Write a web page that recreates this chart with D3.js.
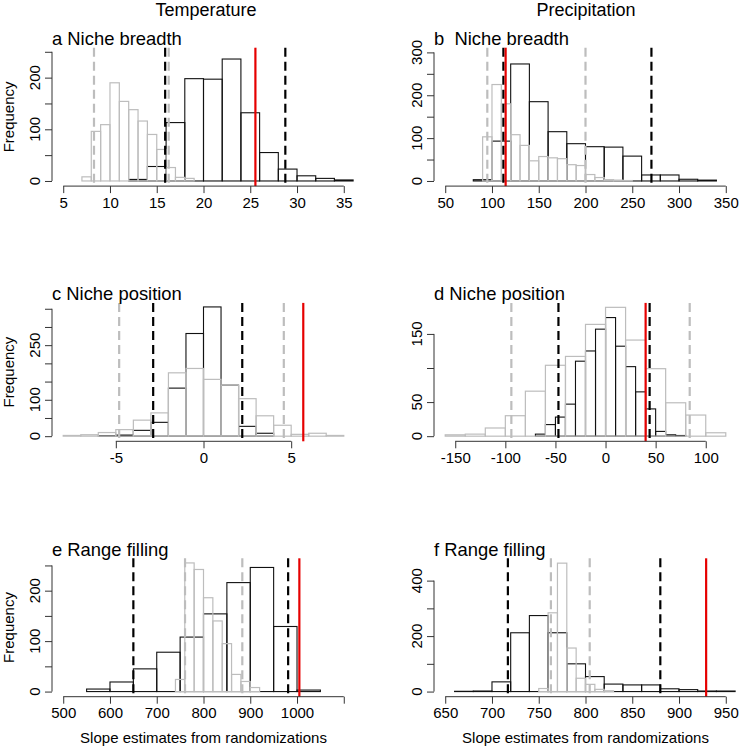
<!DOCTYPE html>
<html><head><meta charset="utf-8">
<script src="https://cdn.jsdelivr.net/npm/d3@7/dist/d3.min.js"></script>
<style>
html,body{margin:0;padding:0;background:#fff;}
svg{display:block;font-family:"Liberation Sans",Arial,Helvetica,sans-serif;}
text{white-space:pre;}
</style></head><body>
<svg id="chart" width="740" height="748"></svg>
<script>
// ---------- DATA ----------
const columnTitles = ["Temperature", "Precipitation"];
const panelTitles = ["a Niche breadth", "b  Niche breadth", "c Niche position", "d Niche position", "e Range filling", "f Range filling"];
const yAxisTitle = "Frequency";
const xAxisTitle = "Slope estimates from randomizations";

// a: Temperature niche breadth
const aBlackBreaks = [12,14,16,18,20,22,24,26,28,30,32,34,36];
const aBlackCounts = [3,28,113,198,197,236,132,55,23,10,5,2];
const aGrayBreaks = [7,8,9,10,11,12,13,14,15,16,17,18,19];
const aGrayCounts = [8,96,109,190,154,138,116,90,61,26,7,5];
const aGrayLines = [8.29, 16.28];
const aBlackLines = [15.9, 28.75];
const aObserved = 25.55;
const aXTicks = [5,10,15,20,25,30,35];
const aXLabels = ["5","10","15","20","25","30","35"];
const aYTicks = [0,50,100,150,200,250];
const aYLabels = ["0","","100","","200",""];

// b: Precipitation niche breadth
const bBlackBreaks = [80,100,120,140,160,180,200,220,240,260,280,300,320,340];
const bBlackCounts = [3,93,273,185,115,87,80,79,58,14,14,4,2];
const bGrayBreaks = [90,100,110,120,130,140,150,160,170,180,190,200,210,220,230,240,250];
const bGrayCounts = [103,225,180,108,83,47,57,54,52,38,36,15,8,3,2,1];
const bGrayLines = [95, 200];
const bBlackLines = [112.2, 270.5];
const bObserved = 114.6;
const bXTicks = [50,100,150,200,250,300,350];
const bXLabels = ["50","100","150","200","250","300","350"];
const bYTicks = [0,50,100,150,200,250,300];
const bYLabels = ["0","","100","","200","","300"];

// c: Temperature niche position
const cBlackBreaks = [-6,-5,-4,-3,-2,-1,0,1,2,3,4];
const cBlackCounts = [1,3,16,38,132,282,355,140,27,8];
const cGrayBreaks = [-8,-7,-6,-5,-4,-3,-2,-1,0,1,2,3,4,5,6,7,8];
const cGrayCounts = [2,4,10,18,44,64,174,186,156,140,103,56,30,5,8,2];
const cGrayLines = [-4.81, 4.58];
const cBlackLines = [-2.87, 2.21];
const cObserved = 5.69;
const cXTicks = [-5,0,5];
const cXLabels = ["-5","0","5"];
const cYTicks = [0,50,100,150,200,250,300,350];
const cYLabels = ["0","","100","","","250","",""];

// d: Precipitation niche position
const dBlackBreaks = [-70,-60,-50,-40,-30,-20,-10,0,10,20,30,40,50,60,70,80];
const dBlackCounts = [3,17,28,47,110,125,157,174,132,102,65,40,7,2,1];
const dGrayBreaks = [-160,-140,-120,-100,-80,-60,-40,-20,0,20,40,60,80,100,120];
const dGrayCounts = [2,3,12,30,66,104,117,164,189,141,99,49,31,5];
const dGrayLines = [-94, 84];
const dBlackLines = [-47, 44];
const dObserved = 40;
const dXTicks = [-150,-100,-50,0,50,100];
const dXLabels = ["-150","-100","-50","0","50","100"];
const dYTicks = [0,50,100,150];
const dYLabels = ["0","50","","150"];

// e: Temperature range filling
const eBlackBreaks = [550,600,650,700,750,800,850,900,950,1000,1050];
const eBlackCounts = [5,19,45,78,108,154,216,246,129,3];
const eGrayBreaks = [740,760,780,800,820,840,860,880,900,920];
const eGrayCounts = [24,255,242,186,140,95,34,20,8];
const eGrayLines = [760.5, 883];
const eBlackLines = [650, 981];
const eObserved = 1005;
const eXTicks = [500,600,700,800,900,1000,1100];
const eXLabels = ["500","600","700","800","900","1000",""];
const eYTicks = [0,50,100,150,200,250];
const eYLabels = ["0","","100","","200",""];

// f: Precipitation range filling
const fBlackBreaks = [660,680,700,720,740,760,780,800,820,840,860,880,900,920,940,960];
const fBlackCounts = [1,2,35,212,274,212,100,54,27,24,24,10,7,2,2];
const fGrayBreaks = [750,760,770,780,790,800,810,820,830];
const fGrayCounts = [11,284,463,157,48,26,8,3];
const fGrayLines = [763, 804.5];
const fBlackLines = [717, 880];
const fObserved = 929;
const fXTicks = [650,700,750,800,850,900,950];
const fXLabels = ["650","700","750","800","850","900","950"];
const fYTicks = [0,100,200,300,400];
const fYLabels = ["0","","200","","400"];

// ---------- LAYOUT (positions / styles only) ----------
const plotW = 303, plotH = 138.4;
const colLeft = [52, 434];
const rowTop = [47.7, 302.9, 558.3];
const panelXlim = [[5,35],[50,350],[-8,8],[-160,120],[500,1100],[650,950]];
const panelYmax = [248, 299, 352, 188, 254, 462];

const panels = [
  {bb:aBlackBreaks,bc:aBlackCounts,gb:aGrayBreaks,gc:aGrayCounts,gl:aGrayLines,bl:aBlackLines,obs:aObserved,xt:aXTicks,xl:aXLabels,yt:aYTicks,yl:aYLabels},
  {bb:bBlackBreaks,bc:bBlackCounts,gb:bGrayBreaks,gc:bGrayCounts,gl:bGrayLines,bl:bBlackLines,obs:bObserved,xt:bXTicks,xl:bXLabels,yt:bYTicks,yl:bYLabels},
  {bb:cBlackBreaks,bc:cBlackCounts,gb:cGrayBreaks,gc:cGrayCounts,gl:cGrayLines,bl:cBlackLines,obs:cObserved,xt:cXTicks,xl:cXLabels,yt:cYTicks,yl:cYLabels},
  {bb:dBlackBreaks,bc:dBlackCounts,gb:dGrayBreaks,gc:dGrayCounts,gl:dGrayLines,bl:dBlackLines,obs:dObserved,xt:dXTicks,xl:dXLabels,yt:dYTicks,yl:dYLabels},
  {bb:eBlackBreaks,bc:eBlackCounts,gb:eGrayBreaks,gc:eGrayCounts,gl:eGrayLines,bl:eBlackLines,obs:eObserved,xt:eXTicks,xl:eXLabels,yt:eYTicks,yl:eYLabels},
  {bb:fBlackBreaks,bc:fBlackCounts,gb:fGrayBreaks,gc:fGrayCounts,gl:fGrayLines,bl:fBlackLines,obs:fObserved,xt:fXTicks,xl:fXLabels,yt:fYTicks,yl:fYLabels}
];

const BLACK = "#111", GRAY = "#bdbdbd", RED = "#e60000", AXIS = "#333";
const tickFont = 15, titleFont = 18.4;

const svg = d3.select("#chart");

// column titles
svg.append("text").attr("x", 206).attr("y", 16).attr("text-anchor","middle")
  .attr("font-size", 18).attr("fill", "#000").text(columnTitles[0]);
svg.append("text").attr("x", 586).attr("y", 16).attr("text-anchor","middle")
  .attr("font-size", 18).attr("fill", "#000").text(columnTitles[1]);

panels.forEach((p, i) => {
  const col = i % 2, row = Math.floor(i / 2);
  const left = colLeft[col], top = rowTop[row];
  const [x0, x1] = panelXlim[i];
  const r = x1 - x0;
  const x = d3.scaleLinear().domain([x0 - 0.04*r, x1 + 0.04*r]).range([left, left + plotW]);
  const ym = panelYmax[i];
  const y = d3.scaleLinear().domain([-0.04*ym, 1.04*ym]).range([top + plotH, top]);
  const g = svg.append("g");

  // histograms
  function hist(breaks, counts, color, sw) {
    g.append("g").selectAll("rect").data(counts).join("rect")
      .attr("x", (d, k) => x(breaks[k]))
      .attr("width", (d, k) => x(breaks[k+1]) - x(breaks[k]))
      .attr("y", d => y(d))
      .attr("height", d => y(0) - y(d))
      .attr("fill", "none").attr("stroke", color).attr("stroke-width", sw);
  }
  hist(p.bb, p.bc, BLACK, 1.1);
  hist(p.gb, p.gc, GRAY, 1.2);

  // vertical reference lines
  function vline(v, color, dash) {
    g.append("line").attr("x1", x(v)).attr("x2", x(v))
      .attr("y1", top).attr("y2", top + plotH)
      .attr("stroke", color).attr("stroke-width", 2.2)
      .attr("stroke-dasharray", dash);
  }
  p.gl.forEach(v => vline(v, GRAY, "9,5"));
  p.bl.forEach(v => vline(v, "#000", "9,5"));
  vline(p.obs, RED, null);

  // x axis
  const axY = top + plotH;
  const xa = g.append("g").attr("transform", `translate(0,${axY})`)
    .call(d3.axisBottom(x).tickValues(p.xt).tickFormat((d, k) => p.xl[k])
      .tickSize(7).tickPadding(4).tickSizeOuter(0));
  xa.select(".domain").remove();
  xa.append("line").attr("x1", x(p.xt[0])).attr("x2", x(p.xt[p.xt.length-1]))
    .attr("y1", 0).attr("y2", 0).attr("stroke", AXIS);
  xa.selectAll(".tick line").attr("stroke", AXIS);
  xa.selectAll("text").attr("font-size", tickFont).attr("fill", "#000")
    .attr("font-family", "Liberation Sans, Arial, sans-serif");

  // y axis
  const ya = g.append("g").attr("transform", `translate(${left},0)`)
    .call(d3.axisLeft(y).tickValues(p.yt).tickFormat("").tickSize(7).tickSizeOuter(0));
  ya.select(".domain").remove();
  ya.append("line").attr("x1", 0).attr("x2", 0)
    .attr("y1", y(p.yt[0])).attr("y2", y(p.yt[p.yt.length-1])).attr("stroke", AXIS);
  ya.selectAll(".tick line").attr("stroke", AXIS);
  p.yt.forEach((v, k) => {
    if (!p.yl[k]) return;
    ya.append("text").attr("transform", `translate(-12.4,${y(v)}) rotate(-90)`)
      .attr("text-anchor", "middle").attr("font-size", tickFont)
      .attr("fill", "#000").attr("font-family", "Liberation Sans, Arial, sans-serif")
      .text(p.yl[k]);
  });

  // panel title
  g.append("text").attr("x", left).attr("y", top - 2.5)
    .attr("font-size", titleFont).attr("fill", "#000").text(panelTitles[i]);

  // axis titles
  if (col === 0) {
    g.append("text").attr("transform", `translate(13.5,${top + plotH/2}) rotate(-90)`)
      .attr("text-anchor", "middle").attr("font-size", 15).attr("fill", "#000").text(yAxisTitle);
  }
  if (row === 2) {
    g.append("text").attr("x", left + plotW/2).attr("y", 742.5)
      .attr("text-anchor", "middle").attr("font-size", 15).attr("fill", "#000").text(xAxisTitle);
  }
});
</script></body></html>
